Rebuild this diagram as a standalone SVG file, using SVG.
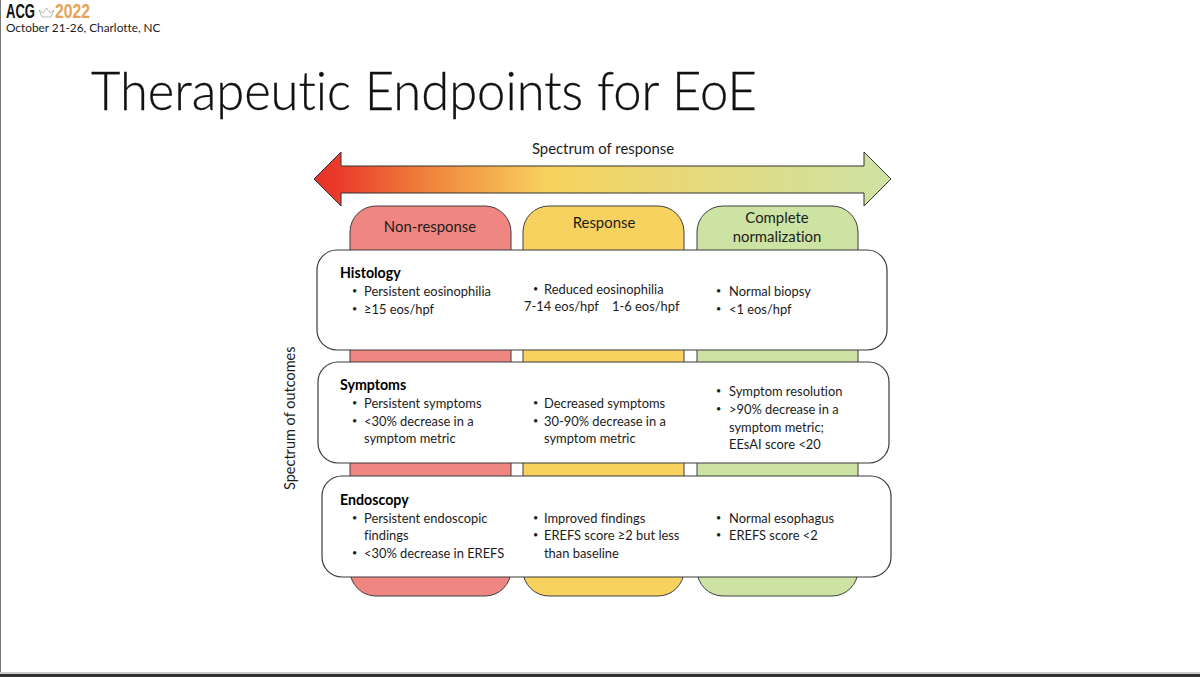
<svg xmlns="http://www.w3.org/2000/svg" width="1200" height="677" viewBox="0 0 1200 677">
<style>
text{font-family:Lato,"Open Sans",sans-serif;fill:#1c1c1c;font-size:12.9px;font-variant-ligatures:none}
.b{font-weight:700;font-size:14.2px;fill:#000}
.h{font-size:14.9px;text-anchor:middle}
.d{font-size:9px}
.card{fill:#fff;stroke:#3a3a3a;stroke-width:1.2}
.col{stroke:#3f3f3f;stroke-width:1}
.red{fill:#f08681}.yel{fill:#f8d25e}.grn{fill:#cde3a3}
</style>
<defs>
<linearGradient id="g" x1="0" x2="1" y1="0" y2="0">
<stop offset="0" stop-color="#e8312a"/><stop offset=".04" stop-color="#ea3a2b"/><stop offset=".2" stop-color="#f0843c"/><stop offset=".405" stop-color="#f8d25e"/><stop offset="1" stop-color="#cde3a3"/>
</linearGradient>
</defs>
<rect width="1200" height="677" fill="#fff"/>
<rect x="0" y="0" width="1" height="672" fill="#777"/>
<rect x="0" y="672" width="1200" height="2" fill="#ccc"/>
<rect x="0" y="674" width="1200" height="3" fill="#333"/>
<g id="header">
<text x="6" y="18" style="font-family:'Liberation Sans Narrow','Liberation Sans',sans-serif;font-size:21px;font-weight:700;fill:#111" textLength="29" lengthAdjust="spacingAndGlyphs">ACG</text>
<path d="M39 10l3 7h9l3-7-4 3-3.500-5-3.500 5z" fill="none" stroke="#b9b9b9" stroke-width="1"/>
<text x="55" y="18" style="font-family:'Liberation Sans Narrow','Liberation Sans',sans-serif;font-size:21px;font-weight:700;fill:#e5a457" textLength="35" lengthAdjust="spacingAndGlyphs">2022</text>
<text x="6" y="32" style="font-size:11.8px">October 21-26, Charlotte, NC</text>
</g>
<text id="title" x="91" y="110" style="font-size:54px;font-weight:300;fill:#111;stroke:#111;stroke-width:.3" textLength="666" lengthAdjust="spacingAndGlyphs">Therapeutic Endpoints for EoE</text>
<g id="arrow">
<path d="M314 179L341 152V166H864V152L891 179L864 206V193H341V206Z" fill="url(#g)" stroke="#333" stroke-width="1"/>
<text x="603" y="154" class="h">Spectrum of response</text>
</g>
<g id="col-non-response">
<rect x="350" y="206" width="161" height="390" rx="26" class="col red"/>
<text x="430" y="232" class="h">Non-response</text>
</g>
<g id="col-response">
<rect x="523" y="206" width="161" height="390" rx="26" class="col yel"/>
<text x="604" y="228" class="h">Response</text>
</g>
<g id="col-complete">
<rect x="697" y="206" width="161" height="390" rx="26" class="col grn"/>
<text x="777" y="223" class="h">Complete</text>
<text x="777" y="242" class="h">normalization</text>
</g>
<text id="y-label" transform="translate(295,490) rotate(-90)" style="font-size:14.5px">Spectrum of outcomes</text>
<g id="histology">
<rect x="317" y="250" width="570" height="100" rx="20" class="card"/>
<text x="340" y="278" class="b">Histology</text>
<text x="352" y="294" class="d">•</text><text x="364" y="296">Persistent eosinophilia</text>
<text x="352" y="312" class="d">•</text><text x="364" y="314">≥15 eos/hpf</text>
<text x="533" y="292" class="d">•</text><text x="544" y="294">Reduced eosinophilia</text>
<text x="524" y="311">7-14 eos/hpf</text><text x="612" y="311">1-6 eos/hpf</text>
<text x="716" y="294" class="d">•</text><text x="729" y="296">Normal biopsy</text>
<text x="716" y="312" class="d">•</text><text x="729" y="314">&lt;1 eos/hpf</text>
</g>
<g id="symptoms">
<rect x="318" y="362" width="571" height="101" rx="20" class="card"/>
<text x="340" y="390" class="b">Symptoms</text>
<text x="352" y="406" class="d">•</text><text x="364" y="408">Persistent symptoms</text>
<text x="352" y="424" class="d">•</text><text x="364" y="426">&lt;30% decrease in a</text>
<text x="364" y="443">symptom metric</text>
<text x="533" y="406" class="d">•</text><text x="544" y="408">Decreased symptoms</text>
<text x="533" y="424" class="d">•</text><text x="544" y="426">30-90% decrease in a</text>
<text x="544" y="443">symptom metric</text>
<text x="716" y="394" class="d">•</text><text x="729" y="396">Symptom resolution</text>
<text x="716" y="412" class="d">•</text><text x="729" y="414">&gt;90% decrease in a</text>
<text x="729" y="432">symptom metric;</text>
<text x="729" y="449">EEsAI score &lt;20</text>
</g>
<g id="endoscopy">
<rect x="322" y="476" width="569" height="101" rx="20" class="card"/>
<text x="340" y="505" class="b">Endoscopy</text>
<text x="352" y="521" class="d">•</text><text x="364" y="523">Persistent endoscopic</text>
<text x="364" y="540">findings</text>
<text x="352" y="556" class="d">•</text><text x="364" y="558">&lt;30% decrease in EREFS</text>
<text x="533" y="521" class="d">•</text><text x="544" y="523">Improved findings</text>
<text x="533" y="538" class="d">•</text><text x="544" y="540">EREFS score ≥2 but less</text>
<text x="544" y="558">than baseline</text>
<text x="716" y="521" class="d">•</text><text x="729" y="523">Normal esophagus</text>
<text x="716" y="538" class="d">•</text><text x="729" y="540">EREFS score &lt;2</text>
</g>
</svg>
